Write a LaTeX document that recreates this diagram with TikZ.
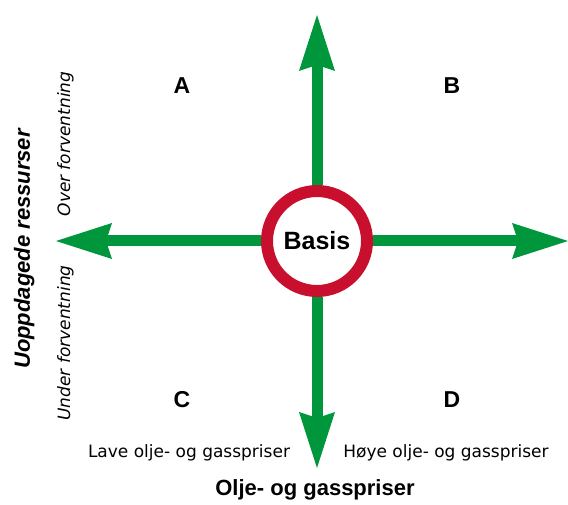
\documentclass[tikz,border=0pt]{standalone}
\usepackage{fontspec}
\setmainfont{DejaVu Sans}
\newfontfamily\hd{Liberation Sans}
\usetikzlibrary{arrows.meta}
\definecolor{agreen}{RGB}{0,150,60}
\definecolor{ared}{RGB}{200,16,46}
\begin{document}
\begin{tikzpicture}[x=1pt,y=-1pt,
  axis/.style={draw=agreen, line width=11pt,
    -{Stealth[length=56pt,width=36pt,inset=6pt,line width=0pt]}},
  quad/.style={font=\hd\bfseries\fontsize{23}{23}\selectfont, anchor=base},
  lab/.style={font=\fontsize{17}{17}\selectfont, anchor=base},
  vlab/.style={font=\itshape\fontsize{17}{17}\selectfont, anchor=base, rotate=90},
  title/.style={font=\hd\bfseries\fontsize{22}{22}\selectfont, anchor=base}]
\useasboundingbox (0,0) rectangle (568,505);
\node[circle, draw=ared, line width=12pt, fill=white, minimum size=100pt, inner sep=0pt,
  font=\hd\bfseries\fontsize{25}{25}\selectfont] (basis) at (317,241) {Basis};
\coordinate (top) at (317,15);
\coordinate (bot) at (317,468);
\coordinate (left) at (56,241);
\coordinate (right) at (568,241);
\draw[axis] (basis) -- (top);
\draw[axis] (basis) -- (bot);
\draw[axis] (basis) -- (left);
\draw[axis] (basis) -- (right);
\node[quad] (A) at (182,94) {A};
\node[quad] (B) at (452,94) {B};
\node[quad] (C) at (182,407) {C};
\node[quad] (D) at (452,407) {D};
\node[lab] (lave) at (189,457) {Lave olje- og gasspriser};
\node[lab] (hoye) at (446,457) {Høye olje- og gasspriser};
\node[title] (xt) at (315,495) {Olje- og gasspriser};
\node[vlab] (over) at (70,144) {Over forventning};
\node[vlab] (under) at (70,343) {Under forventning};
\node[title, font=\hd\bfseries\itshape\fontsize{22}{22}\selectfont, rotate=90] (yt) at (30,249) {Uoppdagede ressurser};
\end{tikzpicture}
\end{document}
